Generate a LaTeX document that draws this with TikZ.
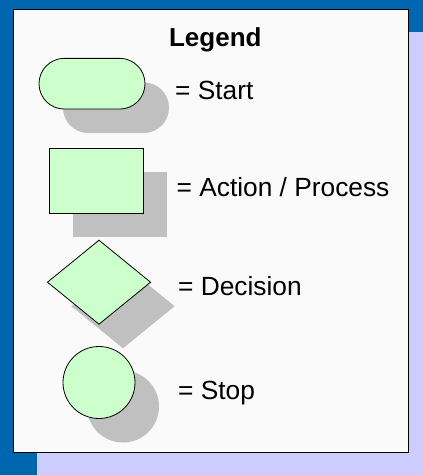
\documentclass[tikz,border=0pt]{standalone}
\usepackage{fontspec}
\setmainfont{Liberation Sans}
\usetikzlibrary{shapes.geometric}
\definecolor{bgblue}{RGB}{0,102,176}
\definecolor{lav}{RGB}{204,204,255}
\definecolor{boxwhite}{RGB}{250,250,250}
\definecolor{lgreen}{RGB}{204,255,204}
\definecolor{shadowgray}{RGB}{192,192,192}
\tikzset{
  shapebox/.style={draw=black, line width=0.8pt, fill=lgreen, inner sep=0pt},
  shadowbox/.style={fill=shadowgray, draw=none, inner sep=0pt},
  lbl/.style={anchor=base west, inner sep=0pt, font=\fontsize{26.3}{30}\selectfont},
}
\begin{document}
\begin{tikzpicture}[x=1pt,y=-1pt]
\useasboundingbox (0,0) rectangle (423,475);
\fill[bgblue] (0,0) rectangle (423,475);
\fill[lav] (36.7,32.3) rectangle (423,475);
\draw[fill=boxwhite, line width=1.4pt] (13.3,9.3) rectangle (408.7,452.7);
\node[anchor=base, inner sep=0pt, font=\fontsize{26}{30}\selectfont\bfseries] (title) at (215.3,46.7) {Legend};
% start
\node[shadowbox, minimum width=106pt, minimum height=50.7pt, rounded corners=25.3pt] (startsh) at (116,107.7) {};
\node[shapebox, minimum width=106pt, minimum height=50.7pt, rounded corners=25.3pt] (start) at (92,83.7) {};
\node[lbl] (startl) at (175,99) {= Start};
% process
\node[shadowbox, minimum width=94.6pt, minimum height=65pt] (procsh) at (120,204.8) {};
\node[shapebox, minimum width=94.6pt, minimum height=65pt] (proc) at (96.2,180.8) {};
\node[lbl] (procl) at (176.5,196.7) {= Action / Process};
% decision
\node[shadowbox, diamond, minimum width=103.4pt, minimum height=84.3pt, aspect=1.227] (decsh) at (123,306.2) {};
\node[shapebox, diamond, minimum width=103.4pt, minimum height=84.3pt, aspect=1.227] (dec) at (99,282.2) {};
\node[lbl] (decl) at (178,295) {= Decision};
% stop
\node[shadowbox, circle, minimum size=72pt] (stopsh) at (123,406.5) {};
\node[shapebox, circle, minimum size=72pt] (stop) at (99,382.5) {};
\node[lbl] (stopl) at (178,399) {= Stop};
\end{tikzpicture}
\end{document}
